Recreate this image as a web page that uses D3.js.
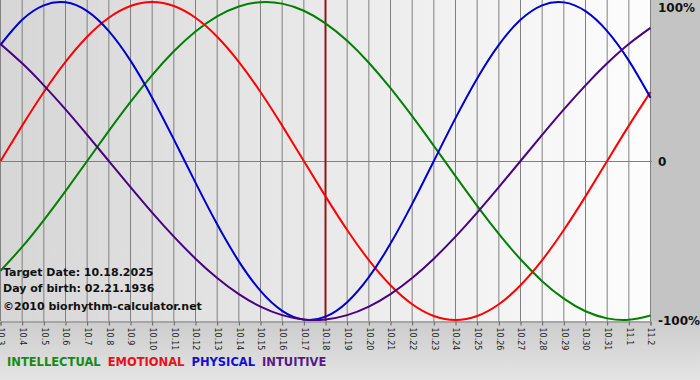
<!DOCTYPE html>
<html>
<head>
<meta charset="utf-8">
<script src="https://cdn.jsdelivr.net/npm/d3@7"></script>
<style>
  body { margin: 0; background: #c4c4c4; }
  svg { display: block; font-family: "DejaVu Sans", Verdana, sans-serif; }
</style>
</head>
<body>
<div id="chart"></div>
<script>
// days shown on the x axis (month.day)
const days = ["10.3","10.4","10.5","10.6","10.7","10.8","10.9","10.10","10.11","10.12",
  "10.13","10.14","10.15","10.16","10.17","10.18","10.19","10.20","10.21","10.22",
  "10.23","10.24","10.25","10.26","10.27","10.28","10.29","10.30","10.31","11.1","11.2"];

// daily cycle values, -1 .. 1
const intellectual = [-0.6901,-0.5406,-0.3717,-0.1893,0,0.1893,0.3717,0.5406,0.6901,0.8146,0.9096,
  0.9718,0.9989,0.9898,0.9450,0.8660,0.7557,0.6182,0.4582,0.2817,0.0951,-0.0951,-0.2817,-0.4582,
  -0.6182,-0.7557,-0.8660,-0.9450,-0.9898,-0.9989,-0.9718];
const emotional = [0,0.2225,0.4339,0.6235,0.7818,0.9010,0.9749,1,0.9749,0.9010,0.7818,0.6235,0.4339,
  0.2225,0,-0.2225,-0.4339,-0.6235,-0.7818,-0.9010,-0.9749,-1,-0.9749,-0.9010,-0.7818,-0.6235,
  -0.4339,-0.2225,0,0.2225,0.4339];
const physical = [0.7308,0.8879,0.9791,0.9977,0.9423,0.8170,0.6311,0.3984,0.1362,-0.1362,-0.3984,
  -0.6311,-0.8170,-0.9423,-0.9977,-0.9791,-0.8879,-0.7308,-0.5196,-0.2698,0,0.2698,0.5196,0.7308,
  0.8879,0.9791,0.9977,0.9423,0.8170,0.6311,0.3984];
const intuitive = [0.7357,0.6142,0.4759,0.3247,0.1646,0,-0.1646,-0.3247,-0.4759,-0.6142,-0.7357,
  -0.8372,-0.9158,-0.9694,-0.9966,-0.9966,-0.9694,-0.9158,-0.8372,-0.7357,-0.6142,-0.4759,-0.3247,
  -0.1646,0,0.1646,0.3247,0.4759,0.6142,0.7357,0.8372];

const seriesNames = ["INTELLECTUAL","EMOTIONAL","PHYSICAL","INTUITIVE"];
const seriesColors = ["#008000","#ff0000","#0000cc","#4b0082"];
const legendColors = ["#168a16","#e8101a","#1010d0","#58188a"];
const yTicks = [1, 0, -1];
const yTickLabels = ["100%","0","-100%"];
const targetDay = "10.18";
const infoLines = ["Target Date: 10.18.2025","Day of birth: 02.21.1936","\u00a92010 biorhythm-calculator.net"];

const series = [intellectual, emotional, physical, intuitive];

const W = 700, H = 380;
const plotW = 651, plotH = 321;

const svg = d3.select("#chart").append("svg")
  .attr("width", W).attr("height", H);

const defs = svg.append("defs");
const plotGrad = defs.append("linearGradient").attr("id", "plotBg")
  .attr("x1", "0").attr("x2", "1").attr("y1", "0").attr("y2", "0");
plotGrad.append("stop").attr("offset", "0").attr("stop-color", "#d6d6d6");
plotGrad.append("stop").attr("offset", "1").attr("stop-color", "#fdfdfd");
const bottomGrad = defs.append("linearGradient").attr("id", "bottomBg")
  .attr("x1", "0").attr("x2", "0").attr("y1", "0").attr("y2", "1");
bottomGrad.append("stop").attr("offset", "0").attr("stop-color", "#cccccc");
bottomGrad.append("stop").attr("offset", "1").attr("stop-color", "#e4e4e4");

// backgrounds
svg.append("rect").attr("width", W).attr("height", H).attr("fill", "#c4c4c4");
svg.append("rect").attr("y", plotH).attr("width", W).attr("height", H - plotH).attr("fill", "url(#bottomBg)");
svg.append("rect").attr("width", plotW).attr("height", plotH).attr("fill", "url(#plotBg)");

const x = d3.scalePoint().domain(days).range([0.5, 650.5]);
const y = d3.scaleLinear().domain([-1, 1]).range([320, 2]);

// vertical grid
svg.append("g").selectAll("line").data(days).join("line")
  .attr("x1", d => x(d)).attr("x2", d => x(d))
  .attr("y1", 0).attr("y2", plotH)
  .attr("stroke", "#808080").attr("stroke-width", 1);

// zero line
svg.append("line")
  .attr("x1", 0).attr("x2", plotW + 1)
  .attr("y1", y(0) + 0.5).attr("y2", y(0) + 0.5)
  .attr("stroke", "#808080");

// target day marker
svg.append("line")
  .attr("x1", x(targetDay)).attr("x2", x(targetDay))
  .attr("y1", 0).attr("y2", plotH)
  .attr("stroke", "#8b1a1a").attr("stroke-width", 2);

// x axis
const xAxis = svg.append("g")
  .attr("transform", `translate(0,${plotH + 0.5})`)
  .call(d3.axisBottom(x).tickSize(4).tickPadding(6));
xAxis.select(".domain").attr("stroke", "#808080");
xAxis.selectAll(".tick line").attr("stroke", "#606060");
xAxis.selectAll(".tick text")
  .attr("transform", "rotate(90)")
  .attr("x", 6).attr("y", 0).attr("dy", "0.35em")
  .attr("text-anchor", "start")
  .attr("fill", "#222")
  .style("font-size", "8px")
  .style("font-family", "'DejaVu Sans', Verdana, sans-serif");

// y labels on the right
svg.append("g").selectAll("text").data(yTicks).join("text")
  .attr("x", 658)
  .attr("y", d => Math.max(12, y(d) + 5))
  .attr("font-size", 12).attr("font-weight", "bold").attr("fill", "#111")
  .text((d, i) => yTickLabels[i]);

// info text
svg.append("g").selectAll("text").data(infoLines).join("text")
  .attr("x", 3)
  .attr("y", (d, i) => [276, 292, 310][i])
  .attr("font-size", 11).attr("font-weight", "bold").attr("fill", "#111")
  .text(d => d);

// cycle lines
const line = d3.line()
  .x((d, i) => x(days[i]))
  .y(d => y(d))
  .curve(d3.curveNatural);

svg.append("g").selectAll("path").data(series).join("path")
  .attr("d", line)
  .attr("fill", "none")
  .attr("stroke", (d, i) => seriesColors[i])
  .attr("stroke-width", 2);

// legend
let lx = 7;
seriesNames.forEach((name, i) => {
  const t = svg.append("text")
    .attr("x", lx).attr("y", 366)
    .attr("font-size", 11.5).attr("font-weight", "bold")
    .attr("fill", legendColors[i])
    .text(name);
  lx += t.node().getComputedTextLength() + 7;
});
</script>
</body>
</html>
